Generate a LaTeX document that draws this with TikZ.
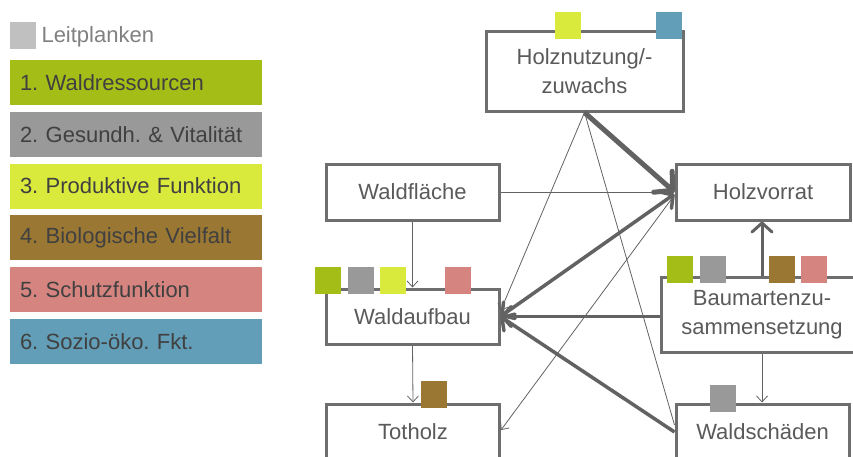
\documentclass[tikz,border=0pt]{standalone}
\usepackage{fontspec}
\setmainfont{Liberation Sans}
\usetikzlibrary{arrows.meta}
\frenchspacing

\definecolor{kgreen}{HTML}{A5BE17}
\definecolor{kgray}{HTML}{999999}
\definecolor{klime}{HTML}{DAEA3C}
\definecolor{kbrown}{HTML}{9A7834}
\definecolor{kpink}{HTML}{D68480}
\definecolor{kblue}{HTML}{629EB8}
\definecolor{leitgray}{HTML}{C0C0C0}
\definecolor{leittext}{HTML}{808080}
\definecolor{legtext}{HTML}{404040}
\definecolor{txtgray}{HTML}{5A5A5A}
\definecolor{boxgray}{HTML}{6E6E6E}
\definecolor{linegray}{HTML}{626262}

\begin{document}
\begin{tikzpicture}[x=1pt, y=-1pt,
	every node/.style={font=\fontsize{22}{28.5}\selectfont},
	box/.style={draw=boxgray, line width=3pt, fill=white, text=txtgray, align=center, inner sep=0pt, minimum width=173pt, minimum height=56pt},
	tag/.style={fill=#1, minimum width=26pt, minimum height=27pt, inner sep=0pt},
	bar/.style={fill=#1, text=legtext, minimum height=45pt, text width=232pt, align=left, inner xsep=10pt, inner ysep=0pt},
	link/.style={-{Straight Barb[length=6pt,width=11pt]}, draw=linegray, line width=0.8pt},
	bold/.style={-{Straight Barb[length=9pt,width=20pt,round]}, draw=linegray, line width=3.5pt}]
	\useasboundingbox (0,0) rectangle (853,456);

	% legend
	\node[tag=leitgray] (lp) at (22.5,35.5) {};
	\node[anchor=west, text=leittext] (lptxt) at (38,37) {Leitplanken};
	\foreach \i/\col/\txt in {1/kgreen/1. Waldressourcen, 2/kgray/2. Gesundh. \& Vitalität, 3/klime/3. Produktive Funktion, 4/kbrown/4. Biologische Vielfalt, 5/kpink/5. Schutzfunktion, 6/kblue/6. Sozio-öko. Fkt.}
		\node[bar=\col] (leg\i) at (136, {82.5+51.8*(\i-1)}) {\txt};

	% boxes
	\node[box, minimum width=197pt, minimum height=80pt] (hn) at (584.5,71) {Holznutzung/-\\zuwachs};
	\node[box] (wf) at (412.5,192) {Waldfläche};
	\node[box, minimum width=174pt] (hv) at (763,192) {Holzvorrat};
	\node[box, minimum height=55pt] (wa) at (412.5,316.5) {Waldaufbau};
	\node[box, minimum width=202pt, minimum height=75pt] (bz) at (762,314.5) {Baumartenzu-\\sammensetzung};
	\node[box] (th) at (413,432) {Totholz};
	\node[box] (ws) at (762.5,432) {Waldschäden};

	% links
	\draw[bold, -{Straight Barb[length=13pt,width=28pt,round]}, line width=5pt] (hn.south) -- (hv.west);
	\draw[link] (wf.east) -- (hv.west);
	\draw[link] (wf.south) -- (wa.north);
	\draw[link] (wa.south) -- (th.north);
	\draw[link] (bz.south) -- (bz.south |- ws.north);
	\draw[link] (hn.south) -- ([yshift=5.5pt]wa.east);
	\draw[link] ([yshift=-3pt]hv.west) -- ([yshift=2pt]th.east);
	\draw[draw=linegray, line width=0.8pt] (hn.south) -- ([yshift=7pt]ws.west);
	\draw[bold, line width=3pt] (bz.north) -- (bz.north |- hv.south);
	\draw[bold] (bz.west |- wa.east) -- (wa.east);
	\draw[bold, {Straight Barb[length=9pt,width=20pt,round]}-{Straight Barb[length=9pt,width=20pt,round]}] ([yshift=-2pt]hv.west) -- (wa.east);
	\draw[bold] (ws.west) -- (wa.east);

	% tags
	\node[tag=klime] (hn1) at (567.5,25.5) {};
	\node[tag=kblue] (hn2) at (668.5,25.5) {};
	\node[tag=kgreen] (wa1) at (328,280) {};
	\node[tag=kgray] (wa2) at (361,280) {};
	\node[tag=klime] (wa3) at (393,280) {};
	\node[tag=kpink] (wa4) at (458,280) {};
	\node[tag=kgreen] (bz1) at (679.5,269) {};
	\node[tag=kgray] (bz2) at (713,269) {};
	\node[tag=kbrown] (bz3) at (781.5,269) {};
	\node[tag=kpink] (bz4) at (813.5,269) {};
	\node[tag=kbrown] (th1) at (433.5,394.5) {};
	\node[tag=kgray] (ws1) at (723,398) {};
\end{tikzpicture}
\end{document}
